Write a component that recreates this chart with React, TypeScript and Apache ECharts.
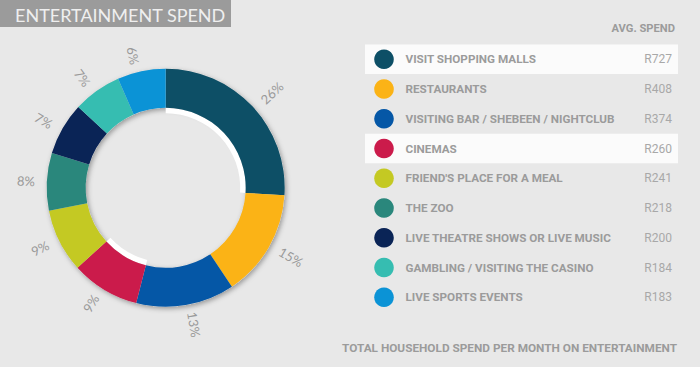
import React, { useEffect, useRef } from "react";
import * as echarts from "echarts";

const categories = [
  "VISIT SHOPPING MALLS",
  "RESTAURANTS",
  "VISITING BAR / SHEBEEN / NIGHTCLUB",
  "CINEMAS",
  "FRIEND'S PLACE FOR A MEAL",
  "THE ZOO",
  "LIVE THEATRE SHOWS OR LIVE MUSIC",
  "GAMBLING / VISITING THE CASINO",
  "LIVE SPORTS EVENTS",
];
const avgSpend = [727, 408, 374, 260, 241, 218, 200, 184, 183];
const colors = [
  "#0d4f66",
  "#fbb316",
  "#0557a6",
  "#cb1b4b",
  "#c4c923",
  "#2a877c",
  "#0a2456",
  "#36bdb1",
  "#0b93d6",
];
const highlighted = ["VISIT SHOPPING MALLS", "CINEMAS"];
const title = "ENTERTAINMENT SPEND";
const valueHeader = "AVG. SPEND";
const footer = "TOTAL HOUSEHOLD SPEND PER MONTH ON ENTERTAINMENT";

export default function App() {
  const ref = useRef<HTMLDivElement>(null);
  useEffect(() => {
    document.body.style.margin = "0";
    if (!ref.current) return;
    const chart = echarts.init(ref.current, null, { renderer: "svg" });
    const center = [165.7, 187.8];
    const rowTop = 59.3;
    const rowStep = 29.75;
    const textColor = "#9b9b9b";

    const legendGraphics: any[] = [];
    categories.forEach((name, i) => {
      const yc = rowTop + i * rowStep;
      if (highlighted.includes(name)) {
        legendGraphics.push({
          type: "rect",
          shape: { x: 365, y: yc - 14.75, width: 313, height: 29.5 },
          style: { fill: "#fbfbfb" },
          silent: true,
        });
      }
      legendGraphics.push({
        type: "circle",
        shape: { cx: 384, cy: yc, r: 9.8 },
        style: { fill: colors[i] },
        silent: true,
      });
      legendGraphics.push({
        type: "text",
        x: 405.5,
        y: yc,
        silent: true,
        style: {
          text: name,
          fill: textColor,
          fontSize: 11.7,
          fontWeight: "bold",
          fontFamily: "Roboto",
          align: "left",
          verticalAlign: "middle",
        },
      });
      legendGraphics.push({
        type: "text",
        x: 672,
        y: yc,
        silent: true,
        style: {
          text: "R" + avgSpend[i],
          fill: "#a8a8a8",
          fontSize: 12,
          fontFamily: "Roboto",
          align: "right",
          verticalAlign: "middle",
        },
      });
    });

    const option: any = {
      animation: false,
      backgroundColor: "#e8e8e8",
      color: colors,
      graphic: [
        {
          type: "rect",
          shape: { x: 0, y: 0, width: 231, height: 27 },
          style: { fill: "#9b9b9b" },
          silent: true,
        },
        {
          type: "text",
          x: 15,
          y: 14.5,
          silent: true,
          style: {
            text: title,
            fill: "#efefef",
            fontSize: 18,
            fontFamily: "Lato",
            align: "left",
            verticalAlign: "middle",
          },
        },
        {
          type: "text",
          x: 675,
          y: 28.5,
          silent: true,
          style: {
            text: valueHeader,
            fill: textColor,
            fontSize: 11.2,
            fontWeight: "bold",
            fontFamily: "Roboto",
            align: "right",
            verticalAlign: "middle",
          },
        },
        {
          type: "text",
          x: 677,
          y: 347.5,
          silent: true,
          style: {
            text: footer,
            fill: textColor,
            fontSize: 11.8,
            fontWeight: "bold",
            fontFamily: "Roboto",
            align: "right",
            verticalAlign: "middle",
          },
        },
        ...legendGraphics,
      ],
      series: [
        {
          type: "pie",
          silent: true,
          z: 1,
          center,
          radius: [80, 119],
          startAngle: 90,
          label: { show: false },
          labelLine: { show: false },
          itemStyle: {
            color: "#d8d8d8",
            shadowBlur: 5,
            shadowOffsetX: 1.5,
            shadowOffsetY: 2,
            shadowColor: "rgba(0,0,0,0.35)",
          },
          data: [{ value: 1, name: "base" }],
        },
        {
          type: "pie",
          silent: true,
          z: 2,
          center,
          radius: [74.5, 80],
          startAngle: 90,
          label: { show: false },
          labelLine: { show: false },
          data: categories.map((name, i) => ({
            name,
            value: avgSpend[i],
            itemStyle: {
              color: highlighted.includes(name) ? "#ffffff" : "rgba(0,0,0,0)",
            },
          })),
        },
        {
          type: "pie",
          z: 3,
          center,
          radius: [80, 119],
          startAngle: 90,
          clockwise: true,
          avoidLabelOverlap: false,
          percentPrecision: 0,
          label: {
            show: true,
            position: "outside",
            formatter: "{d}%",
            rotate: "radial",
            color: "#999999",
            fontSize: 13,
            fontFamily: "Lato",
          },
          labelLine: { show: false, length: 7, length2: 0 },
          itemStyle: { borderWidth: 0 },
          data: categories.map((name, i) => ({
            name,
            value: avgSpend[i],
            itemStyle: { color: colors[i] },
          })),
        },
      ],
    };
    chart.setOption(option);
    return () => chart.dispose();
  }, []);
  return <div ref={ref} style={{ width: 700, height: 367 }} />;
}
